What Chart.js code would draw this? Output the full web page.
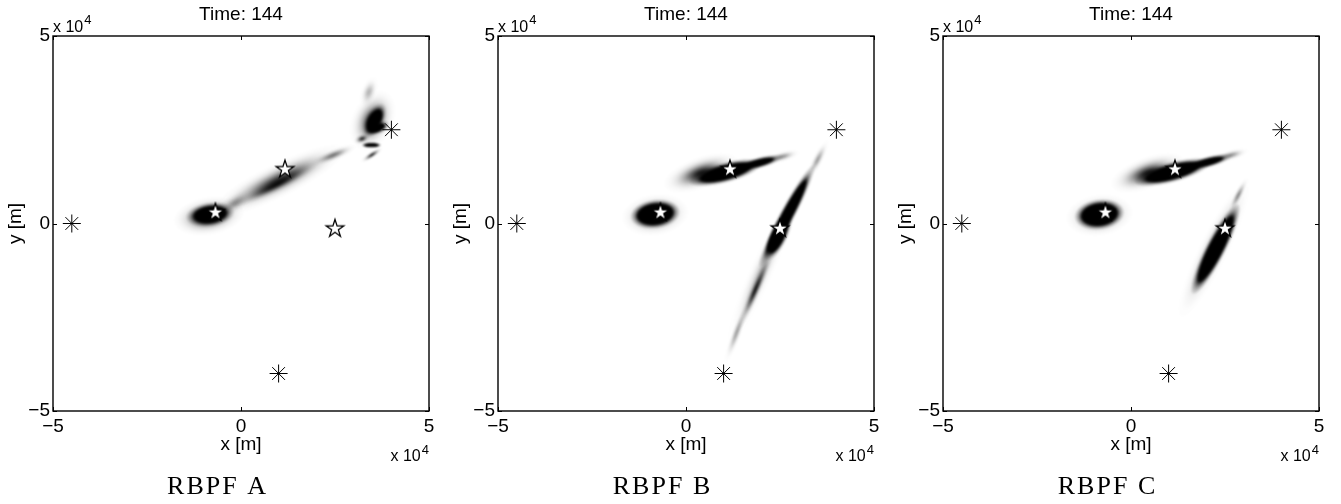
<!DOCTYPE html>
<html>
<head>
<meta charset="utf-8">
<script src="https://cdn.jsdelivr.net/npm/chart.js@4.4.1/dist/chart.umd.min.js"></script>
<style>
html,body{margin:0;padding:0;background:#fff;width:1341px;height:504px;overflow:hidden;}
canvas{position:absolute;top:0;}
</style>
</head>
<body>
<canvas id="p0" width="445" height="504" style="left:0px"></canvas>
<canvas id="p1" width="445" height="504" style="left:445px"></canvas>
<canvas id="p2" width="445" height="504" style="left:890px"></canvas>
<script>
// ---------------- data (positions in units of 10^4 m) ----------------
const axisTicks = [-5, 0, 5];
const tickLabels = ['\u22125', '0', '5'];
const panelNames = ['RBPF A', 'RBPF B', 'RBPF C'];
const timeStep = 144;
const axisExponent = 4;

// sensors (asterisks)
const sensorX = [-4.5, 1.0, 4.0];
const sensorY = [0.0, -4.0, 2.5];

// true target positions (pentagrams)
const targetX = [-0.68, 1.17, 2.5];
const targetY = [0.29, 1.44, -0.14];

// estimated density blobs:
// [centre x, centre y, semi-major, semi-minor, angle (deg), peak density]
const densityA = [
  [-0.85, 0.20, 0.95, 0.50, 10, 1.10],
  [-0.82, 0.24, 0.65, 0.32, 8, 8],
  [-0.15, 0.55, 0.60, 0.25, 30, 0.40],
  [1.00, 1.15, 2.00, 0.45, 26, 0.80],
  [0.95, 1.05, 1.30, 0.20, 27, 0.90],
  [2.45, 1.82, 0.70, 0.16, 22, 0.55],
  [3.50, 2.75, 0.85, 0.55, 65, 0.90],
  [3.55, 2.75, 0.50, 0.25, 62, 6],
  [3.62, 2.55, 0.35, 0.17, 20, 5],
  [3.22, 2.26, 0.24, 0.13, 20, 0.9],
  [3.47, 2.09, 0.26, 0.07, 0, 12],
  [3.48, 1.83, 0.34, 0.08, 33, 1.0],
  [3.40, 3.50, 0.45, 0.22, 70, 0.30]
];
const densityB = [
  [-0.82, 0.23, 0.90, 0.55, 8, 0.90],
  [-0.82, 0.25, 0.66, 0.38, 8, 12],
  [0.40, 1.35, 1.05, 0.42, 20, 0.90],
  [1.05, 1.36, 1.00, 0.27, 15, 10],
  [1.95, 1.62, 0.65, 0.15, 15, 5],
  [2.55, 1.78, 0.50, 0.14, 15, 0.45],
  [2.00, -1.30, 2.10, 0.32, 66, 0.25],
  [2.68, 0.20, 1.55, 0.20, 62, 10],
  [2.45, -0.35, 0.70, 0.24, 64, 8],
  [1.85, -1.75, 1.30, 0.15, 67, 0.95],
  [1.35, -2.90, 0.90, 0.13, 70, 0.40],
  [3.50, 1.70, 0.60, 0.14, 63, 0.40]
];
const densityC = [
  [-0.84, 0.22, 0.90, 0.55, 8, 0.90],
  [-0.84, 0.24, 0.66, 0.40, 8, 12],
  [0.45, 1.35, 1.05, 0.42, 20, 0.90],
  [1.10, 1.37, 1.05, 0.27, 15, 10],
  [2.05, 1.64, 0.68, 0.15, 15, 5],
  [2.65, 1.82, 0.50, 0.14, 15, 0.45],
  [2.20, -0.70, 2.00, 0.38, 64, 0.60],
  [2.25, -0.68, 1.35, 0.26, 63, 12],
  [2.85, 0.75, 0.55, 0.11, 63, 0.50]
];
const densities = [densityA, densityB, densityC];

// ---------------- drawing helpers ----------------
const SANS = '"Liberation Sans", Arial, sans-serif';
const SERIF = '"Liberation Serif", "Times New Roman", serif';

function makePentagram(R) {
  const s = 24;
  const c = document.createElement('canvas');
  c.width = s; c.height = s;
  const g = c.getContext('2d');
  g.translate(s / 2, s / 2);
  g.beginPath();
  for (let i = 0; i < 10; i++) {
    const r = i % 2 === 0 ? R : R * 0.382;
    const a = -Math.PI / 2 + i * Math.PI / 5;
    const px = r * Math.cos(a), py = r * Math.sin(a);
    if (i === 0) g.moveTo(px, py); else g.lineTo(px, py);
  }
  g.closePath();
  g.fillStyle = '#fff';
  g.fill();
  g.lineWidth = 1.3;
  g.lineJoin = 'miter';
  g.strokeStyle = '#000';
  g.stroke();
  return c;
}
const pentagram = makePentagram(9.3);

function drawBlob(ctx, xs, ys, b) {
  const [cx, cy, a, bb, ang, peak] = b;
  const px = xs.getPixelForValue(cx), py = ys.getPixelForValue(cy);
  const sx = xs.getPixelForValue(cx + 1) - px;
  const sy = py - ys.getPixelForValue(cy + 1);
  ctx.save();
  ctx.translate(px, py);
  ctx.scale(sx, -sy);
  ctx.rotate(ang * Math.PI / 180);
  ctx.scale(a, bb);
  const g = ctx.createRadialGradient(0, 0, 0, 0, 0, 1);
  const N = 24;
  for (let i = 0; i <= N; i++) {
    const r = i / N;
    const al = i === N ? 0 : Math.min(1, peak * Math.exp(-5 * r * r));
    g.addColorStop(r, 'rgba(0,0,0,' + al.toFixed(4) + ')');
  }
  ctx.fillStyle = g;
  ctx.beginPath();
  ctx.arc(0, 0, 1, 0, Math.PI * 2);
  ctx.fill();
  ctx.restore();
}

function makePanelPlugin(idx) {
  return {
    id: 'panel' + idx,
    beforeDatasetsDraw(chart) {
      const {ctx, chartArea: ca, scales: {x, y}} = chart;
      ctx.save();
      ctx.beginPath();
      ctx.rect(ca.left, ca.top, ca.right - ca.left, ca.bottom - ca.top);
      ctx.clip();
      ctx.filter = 'blur(1.2px)';
      densities[idx].forEach(b => drawBlob(ctx, x, y, b));
      ctx.filter = 'none';
      ctx.restore();
      // axes box + inward ticks
      ctx.save();
      ctx.strokeStyle = '#000';
      ctx.lineWidth = 1.4;
      ctx.strokeRect(ca.left, ca.top, ca.right - ca.left, ca.bottom - ca.top);
      ctx.lineWidth = 1;
      const tl = 4;
      axisTicks.forEach(v => {
        const xp = Math.round(x.getPixelForValue(v)) + 0.5;
        const yp = Math.round(y.getPixelForValue(v)) + 0.5;
        ctx.beginPath();
        ctx.moveTo(xp, ca.bottom); ctx.lineTo(xp, ca.bottom - tl);
        ctx.moveTo(xp, ca.top); ctx.lineTo(xp, ca.top + tl);
        ctx.moveTo(ca.left, yp); ctx.lineTo(ca.left + tl, yp);
        ctx.moveTo(ca.right, yp); ctx.lineTo(ca.right - tl, yp);
        ctx.stroke();
      });
      ctx.restore();
    },
    afterDraw(chart) {
      const {ctx, chartArea: ca} = chart;
      const cx = (ca.left + ca.right) / 2;
      ctx.save();
      ctx.fillStyle = '#000';
      ctx.textBaseline = 'alphabetic';
      // title
      ctx.font = '19px ' + SANS;
      ctx.textAlign = 'center';
      ctx.fillText('Time: ' + timeStep, cx, 20);
      // exponent labels
      ctx.textAlign = 'left';
      ctx.font = '16px ' + SANS;
      const w1 = ctx.measureText('x 10').width;
      ctx.fillText('x 10', ca.left, 32);
      ctx.font = '13px ' + SANS;
      const w2 = ctx.measureText(String(axisExponent)).width;
      ctx.fillText(String(axisExponent), ca.left + w1 + 1, 24);
      const x0 = ca.right - w2 - w1 - 1;
      ctx.font = '16px ' + SANS;
      ctx.fillText('x 10', x0, 461);
      ctx.font = '13px ' + SANS;
      ctx.fillText(String(axisExponent), x0 + w1 + 1, 454);
      // caption
      ctx.font = '26px ' + SERIF;
      ctx.textAlign = 'center';
      try { ctx.letterSpacing = '2px'; } catch (e) {}
      ctx.fillText(panelNames[idx], cx - 23.5, 494);
      ctx.restore();
    }
  };
}

const tickCb = v => {
  const i = axisTicks.indexOf(v);
  return i >= 0 ? tickLabels[i] : '';
};

function sensorPoints() { return sensorX.map((v, i) => ({x: v, y: sensorY[i]})); }
function targetPoints() { return targetX.map((v, i) => ({x: v, y: targetY[i]})); }

for (let p = 0; p < 3; p++) {
  new Chart(document.getElementById('p' + p), {
    type: 'scatter',
    data: {
      datasets: [
        {
          label: 'sensors',
          data: sensorPoints(),
          pointStyle: 'star',
          pointRadius: 9,
          pointHoverRadius: 9,
          borderColor: '#000',
          backgroundColor: '#000',
          borderWidth: 1
        },
        {
          label: 'targets',
          data: targetPoints(),
          pointStyle: pentagram,
          pointRadius: 9,
          pointHoverRadius: 9
        }
      ]
    },
    options: {
      responsive: false,
      animation: false,
      devicePixelRatio: 1,
      events: [],
      layout: {padding: {left: 0, right: 16, top: 36, bottom: 0}},
      plugins: {
        legend: {display: false},
        tooltip: {enabled: false},
        title: {display: false}
      },
      scales: {
        x: {
          type: 'linear', min: -5, max: 5,
          afterBuildTicks: s => { s.ticks = axisTicks.map(v => ({value: v})); },
          afterFit: s => { s.height = 93; },
          grid: {display: false, drawTicks: false},
          border: {display: false},
          ticks: {
            callback: tickCb, color: '#000', padding: 4,
            maxRotation: 0, autoSkip: false,
            font: {family: SANS, size: 19, lineHeight: 1.2}
          },
          title: {
            display: true, text: 'x [m]', color: '#000',
            font: {family: SANS, size: 19, lineHeight: 1.2},
            padding: {top: 0, bottom: 47.5}
          }
        },
        y: {
          type: 'linear', min: -5, max: 5,
          afterBuildTicks: s => { s.ticks = axisTicks.map(v => ({value: v})); },
          afterFit: s => { s.width = 53; },
          grid: {display: false, drawTicks: false},
          border: {display: false},
          ticks: {
            callback: tickCb, color: '#000', padding: 3,
            autoSkip: false,
            font: {family: SANS, size: 19, lineHeight: 1.2}
          },
          title: {
            display: true, text: 'y [m]', color: '#000',
            font: {family: SANS, size: 19, lineHeight: 1.2},
            padding: {top: 4.7, bottom: 0}
          }
        }
      }
    },
    plugins: [makePanelPlugin(p)]
  });
}
</script>
</body>
</html>
